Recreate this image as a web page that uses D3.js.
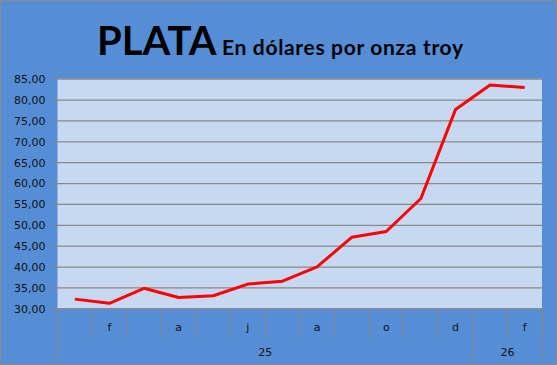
<!DOCTYPE html>
<html>
<head>
<meta charset="utf-8">
<script src="https://cdn.jsdelivr.net/npm/d3@7"></script>
<style>
  html, body { margin: 0; padding: 0; background: #fff; }
  svg { display: block; }
</style>
</head>
<body>
<div id="chart"></div>
<script>
// monthly silver price, Jan 2025 .. Feb 2026
const months = ["e","f","m","a","m","j","j","a","s","o","n","d","e","f"];
const years  = [{label: "25", from: 0, to: 11}, {label: "26", from: 12, to: 13}];
const prices = [32.2, 31.2, 34.8, 32.6, 33.0, 35.8, 36.5, 39.9, 47.0, 48.4, 56.3, 77.6, 83.5, 82.9];
const yTicks = [30, 35, 40, 45, 50, 55, 60, 65, 70, 75, 80, 85];

const W = 557, H = 365;
const plot = {left: 57.5, right: 542, top: 78.7, bottom: 308.3};

const svg = d3.select("#chart").append("svg")
  .attr("width", W).attr("height", H);

svg.append("rect")
  .attr("x", 0.5).attr("y", 0.5).attr("width", W - 1).attr("height", H - 1)
  .attr("fill", "#558ed5").attr("stroke", "#8a8a8a");

const x = d3.scaleBand().domain(d3.range(months.length)).range([plot.left, plot.right]);
const y = d3.scaleLinear().domain([30, 85]).range([plot.bottom, plot.top]);

svg.append("rect")
  .attr("x", plot.left).attr("y", plot.top)
  .attr("width", plot.right - plot.left).attr("height", plot.bottom - plot.top)
  .attr("fill", "#c6d9f1");

// y axis with gridlines
const yAxis = svg.append("g")
  .attr("transform", `translate(${plot.left},0)`)
  .call(d3.axisLeft(y).tickValues(yTicks)
    .tickSize(-(plot.right - plot.left))
    .tickFormat(d => d3.format(".2f")(d).replace(".", ",")));
yAxis.select(".domain").remove();
yAxis.selectAll("line").attr("stroke", "#878787").attr("stroke-width", 1.2)
  .attr("x1", -5);
yAxis.selectAll("text")
  .attr("x", -12).attr("dy", "0.35em")
  .attr("font-family", "DejaVu Sans").attr("font-size", 11).attr("fill", "#111");

// category separators
const edges = d3.range(months.length + 1).map(i => i < months.length ? x(i) : plot.right);
svg.append("g").selectAll("line").data(edges).join("line")
  .attr("x1", d => d).attr("x2", d => d)
  .attr("y1", plot.bottom).attr("y2", 337)
  .attr("stroke", "#878787").attr("stroke-width", 1);

svg.append("g").selectAll("text").data(months).join("text")
  .attr("x", (d, i) => x(i) + x.bandwidth() / 2)
  .attr("y", 331)
  .attr("text-anchor", "middle")
  .attr("font-family", "DejaVu Sans").attr("font-size", 11).attr("fill", "#111")
  .text((d, i) => i % 2 === 1 ? d : "");

// year level
const yearEdges = [plot.left, x(12), plot.right];
svg.append("g").selectAll("line").data(yearEdges).join("line")
  .attr("x1", d => d).attr("x2", d => d)
  .attr("y1", (d, i) => i === 1 ? 337 : plot.bottom).attr("y2", 361)
  .attr("stroke", "#878787").attr("stroke-width", 1);

svg.append("g").selectAll("text").data(years).join("text")
  .attr("x", d => (x(d.from) + x(d.to) + x.bandwidth()) / 2)
  .attr("y", 356)
  .attr("text-anchor", "middle")
  .attr("font-family", "DejaVu Sans").attr("font-size", 11).attr("fill", "#111")
  .text(d => d.label);

// price line
const line = d3.line()
  .x((d, i) => x(i) + x.bandwidth() / 2)
  .y(d => y(d));

svg.append("path")
  .datum(prices)
  .attr("d", line)
  .attr("fill", "none")
  .attr("stroke", "#ff0000")
  .attr("stroke-width", 3)
  .attr("stroke-linejoin", "round");

// title
svg.append("text")
  .attr("x", 97).attr("y", 55)
  .attr("font-family", "Lato").attr("font-weight", "bold").attr("fill", "#000")
  .attr("font-size", 40)
  .text("PLATA");
svg.append("text")
  .attr("x", 222).attr("y", 55)
  .attr("font-family", "Lato").attr("font-weight", "bold").attr("fill", "#000")
  .attr("font-size", 21).attr("textLength", 241)
  .text("En dólares por onza troy");
</script>
</body>
</html>
